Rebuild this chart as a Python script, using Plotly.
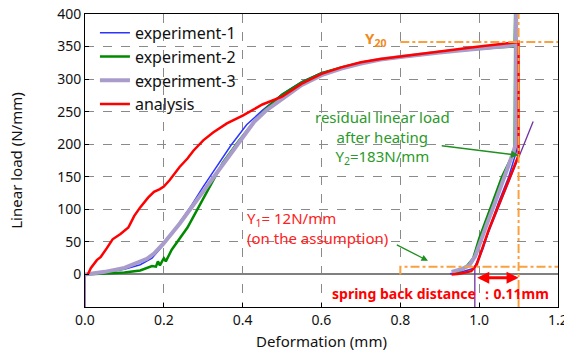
import plotly.graph_objects as go

# ---------------- data ----------------
exp1_x = [0.0, 0.05, 0.1, 0.14, 0.17, 0.2, 0.24, 0.27, 0.3, 0.34, 0.37, 0.41, 0.45, 0.5, 0.55, 0.6, 0.65, 0.7, 0.75, 0.8, 0.85, 0.9, 0.95, 1.0, 1.05, 1.093,
          1.094, 1.095, 1.075, 1.05, 1.03, 1.01, 0.997, 0.985, 0.95, 0.926]
exp1_y = [0, 3, 8, 15, 25, 46, 80, 106, 135, 172, 198, 230, 252, 277, 296, 310, 318, 325, 330, 334, 338, 341, 344, 347, 350, 352,
          430, 190, 150, 112, 78, 40, 20, 9, 3, 1]

exp2_x = [0.0, 0.05, 0.1, 0.14, 0.17, 0.18, 0.185, 0.19, 0.2, 0.205, 0.22, 0.26, 0.29, 0.32, 0.35, 0.39, 0.43, 0.46, 0.5, 0.55, 0.6, 0.65, 0.7, 0.75, 0.8, 0.85, 0.9, 0.95, 1.0, 1.05, 1.09,
          1.092, 1.09, 1.075, 1.058, 1.035, 1.015, 1.0, 0.985, 0.968, 0.95, 0.94]
exp2_y = [0, 1, 3, 6, 13, 12, 20, 14, 25, 20, 38, 72, 105, 138, 172, 205, 235, 255, 276, 295, 309, 318, 325, 330, 334, 338, 341, 344, 347, 349, 350,
          430, 190, 170, 150, 112, 78, 55, 25, 12, 5, 3]

exp3_x = [0.0, 0.05, 0.1, 0.157, 0.175, 0.2, 0.24, 0.27, 0.3, 0.33, 0.36, 0.4, 0.43, 0.46, 0.5, 0.55, 0.6, 0.65, 0.7, 0.75, 0.8, 0.85, 0.9, 0.95, 1.0, 1.05, 1.093,
          1.094, 1.093, 1.085, 1.065, 1.04, 1.02, 1.0, 0.99, 0.975, 0.955, 0.93]
exp3_y = [0, 4, 10, 24, 32, 48, 78, 103, 128, 152, 178, 212, 235, 252, 270, 291, 306, 316, 324, 330, 334, 338, 341, 344, 347, 350, 352,
          430, 200, 185, 150, 110, 78, 45, 28, 14, 8, 4]

ana_x = [0.007, 0.015, 0.03, 0.04, 0.055, 0.07, 0.09, 0.11, 0.125, 0.14, 0.16, 0.175, 0.19, 0.2, 0.215, 0.24, 0.26, 0.275, 0.3, 0.325, 0.36, 0.4, 0.45,
         0.5, 0.55, 0.6, 0.65, 0.7, 0.75, 0.8, 0.9, 1.0, 1.1,
         1.1, 1.075, 1.05, 1.025, 1.005, 0.994, 0.98, 0.95, 0.93]
ana_y = [0, 10, 22, 27, 40, 54, 62, 72, 90, 103, 118, 127, 131, 135, 145, 165, 178, 190, 206, 218, 232, 244, 261,
         273, 293, 308, 318, 326, 331, 335, 343, 350, 357,
         183, 145, 108, 70, 35, 15, 5, 1, 0]

purple_x = [0.0, 0.0, None, 0.989, 0.989, None, 0.989, 1.137]
purple_y = [0, -50, None, 12, -50, None, 12, 235]

Y20 = 357
Y1 = 12
Y2 = 183
x_ref_start = 0.8
x_unload = 0.99
x_hold = 1.1

x_ticks = [0.0, 0.2, 0.4, 0.6, 0.8, 1.0, 1.2]
y_ticks = [0, 50, 100, 150, 200, 250, 300, 350, 400]

FONT = "Noto Sans"
ORANGE = "#f9a03f"

fig = go.Figure()

fig.add_trace(go.Scatter(x=purple_x, y=purple_y, mode="lines", line=dict(color="#7030a0", width=1.3),
                         showlegend=False, hoverinfo="skip"))
fig.add_trace(go.Scatter(x=exp1_x, y=exp1_y, mode="lines", name="experiment-1",
                         line=dict(color="#2b35ff", width=1.5)))
fig.add_trace(go.Scatter(x=exp2_x, y=exp2_y, mode="lines", name="experiment-2",
                         line=dict(color="#008a00", width=2.5)))
fig.add_trace(go.Scatter(x=exp3_x, y=exp3_y, mode="lines", name="experiment-3",
                         line=dict(color="#a99ccb", width=4)))
fig.add_trace(go.Scatter(x=ana_x, y=ana_y, mode="lines", name="analysis",
                         line=dict(color="#ff0000", width=2.5)))

# orange reference lines
fig.add_trace(go.Scatter(x=[x_ref_start, 1.2], y=[Y20, Y20], mode="lines",
                         line=dict(color=ORANGE, width=2, dash="dashdot"), showlegend=False, hoverinfo="skip"))
fig.add_trace(go.Scatter(x=[x_hold, x_hold], y=[-50, 400], mode="lines",
                         line=dict(color=ORANGE, width=2, dash="dashdot"), showlegend=False, hoverinfo="skip"))
fig.add_trace(go.Scatter(x=[x_ref_start, x_ref_start, 1.2], y=[0, Y1, Y1], mode="lines",
                         line=dict(color=ORANGE, width=2, dash="dashdot"), showlegend=False, hoverinfo="skip"))

annotations = [
    dict(x=0.738, y=362, xref="x", yref="y", text="<b>Y<sub>20</sub></b>", showarrow=False,
         font=dict(family=FONT, size=15, color="#f08a20")),
    dict(x=0.756, y=211, xref="x", yref="y",
         text="residual linear load<br>after heating<br>Y<sub>2</sub>=183N/mm",
         showarrow=False, align="center", font=dict(family=FONT, size=15, color="#2a9a2a")),
    dict(x=x_hold, y=Y2, ax=0.9, ay=198, xref="x", yref="y", axref="x", ayref="y", text=" ",
         showarrow=True, arrowhead=2, arrowsize=1, arrowwidth=1.5, arrowcolor="#1f8f1f",
         font=dict(size=2)),
    dict(x=0.406, y=71, xref="x", yref="y", xanchor="left",
         text="Y<sub>1</sub>= 12N/mm<br>(on the assumption)",
         showarrow=False, align="left", font=dict(family=FONT, size=15, color="#ff2020")),
    dict(x=0.87, y=21, ax=0.786, ay=47, xref="x", yref="y", axref="x", ayref="y", text=" ",
         showarrow=True, arrowhead=2, arrowsize=1, arrowwidth=1.3, arrowcolor="#1f8f1f",
         font=dict(size=2)),
    dict(x=x_hold, y=-5, ax=x_unload, ay=-5, xref="x", yref="y", axref="x", ayref="y", text=" ",
         showarrow=True, arrowhead=2, startarrowhead=2, arrowside="end+start", arrowsize=0.8,
         arrowwidth=3, arrowcolor="#ff0000", font=dict(size=2)),
    dict(x=0.903, y=-29, xref="x", yref="y", text="<b>spring back distance ：0.11mm</b>",
         showarrow=False, font=dict(family=FONT, size=14, color="#ff0000")),
]

fig.update_layout(
    width=564, height=358,
    margin=dict(l=85, r=6, t=14, b=51),
    paper_bgcolor="white", plot_bgcolor="white",
    font=dict(family=FONT, size=14, color="#111111"),
    showlegend=True,
    legend=dict(x=0.021, y=0.994, xanchor="left", yanchor="top", bgcolor="rgba(0,0,0,0)",
                font=dict(family=FONT, size=16, color="#111111"), tracegroupgap=0),
    annotations=annotations,
)

fig.update_xaxes(range=[0, 1.2], tickvals=x_ticks, ticktext=[f"{v:.1f}" for v in x_ticks],
                 ticklabeloverflow="allow", automargin=False,
                 showgrid=True, gridcolor="#8a8a8a", griddash="dash", gridwidth=1,
                 zeroline=False, showline=True, linecolor="black", linewidth=1, mirror=True,
                 ticks="inside", ticklen=4, tickcolor="black",
                 title=dict(text="Deformation (mm)", font=dict(family=FONT, size=15), standoff=8),
                 tickfont=dict(family=FONT, size=14))
fig.update_yaxes(range=[-50, 400], tickvals=y_ticks, automargin=False,
                 showgrid=True, gridcolor="#8a8a8a", griddash="dash", gridwidth=1,
                 zeroline=True, zerolinecolor="#808080", zerolinewidth=2,
                 showline=True, linecolor="black", linewidth=1, mirror=True,
                 ticks="inside", ticklen=4, tickcolor="black",
                 title=dict(text="Linear load (N/mm)", font=dict(family=FONT, size=15), standoff=30),
                 tickfont=dict(family=FONT, size=14))

fig.write_html("out.html")
